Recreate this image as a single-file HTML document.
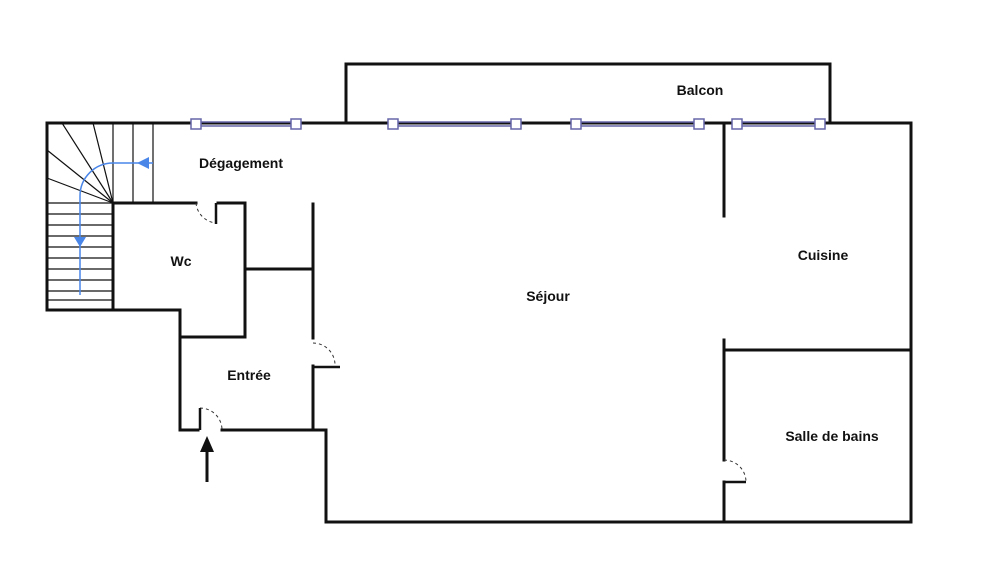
<!DOCTYPE html>
<html><head><style>body{margin:0;background:#fff}svg{display:block}text{font-family:"Liberation Sans",sans-serif;font-weight:bold;font-size:14px;fill:#111}</style></head>
<body>
<svg width="1000" height="566" viewBox="0 0 1000 566">
<g stroke="#111" stroke-width="3" fill="none" stroke-linecap="square">
<polyline points="346,123 346,64 830,64 830,123"/>
<line x1="47" y1="123" x2="911" y2="123"/>
<polyline points="911,123 911,522 326,522 326,430 222,430"/>
<polyline points="198,430 180,430 180,310 47,310 47,123"/>
<polyline points="113,310 113,203 196,203"/>
<polyline points="218,203 245,203 245,337 180,337"/>
<line x1="245" y1="269" x2="313" y2="269"/>
<line x1="313" y1="204" x2="313" y2="338"/>
<line x1="313" y1="366" x2="313" y2="430"/>
<line x1="724" y1="123" x2="724" y2="216"/>
<line x1="724" y1="340" x2="724" y2="460"/>
<line x1="724" y1="482" x2="724" y2="522"/>
<line x1="724" y1="350" x2="911" y2="350"/>
</g>
<g stroke="#111" stroke-width="1.2">
<line x1="47" y1="214" x2="113" y2="214"/><line x1="47" y1="225" x2="113" y2="225"/><line x1="47" y1="236" x2="113" y2="236"/><line x1="47" y1="247" x2="113" y2="247"/><line x1="47" y1="258" x2="113" y2="258"/><line x1="47" y1="269" x2="113" y2="269"/><line x1="47" y1="280" x2="113" y2="280"/><line x1="47" y1="291" x2="113" y2="291"/><line x1="47" y1="300" x2="113" y2="300"/>
<line x1="47" y1="203" x2="113" y2="203"/>
<line x1="133" y1="123" x2="133" y2="203"/><line x1="153" y1="123" x2="153" y2="203"/>
<line x1="113" y1="203" x2="113" y2="123"/>
<line x1="113" y1="203" x2="93" y2="123"/><line x1="113" y1="203" x2="62" y2="123"/>
<line x1="113" y1="203" x2="47" y2="150"/><line x1="113" y1="203" x2="47" y2="178"/>
</g>
<g stroke="#4a86e8" stroke-width="1.5" fill="none">
<path d="M153,163 H113 A33,33 0 0 0 80,196 V295"/>
</g>
<polygon points="137,163 149,157 149,169" fill="#4a86e8"/>
<polygon points="80,247 74,237 86,237" fill="#4a86e8"/>
<g stroke="#6666aa" stroke-width="1.5" fill="#fff">
<line x1="196" y1="122" x2="296" y2="122"/><line x1="196" y1="126" x2="296" y2="126"/>
<line x1="393" y1="122" x2="516" y2="122"/><line x1="393" y1="126" x2="516" y2="126"/>
<line x1="576" y1="122" x2="699" y2="122"/><line x1="576" y1="126" x2="699" y2="126"/>
<line x1="737" y1="122" x2="820" y2="122"/><line x1="737" y1="126" x2="820" y2="126"/>
<rect x="191" y="119" width="10" height="10"/><rect x="291" y="119" width="10" height="10"/>
<rect x="388" y="119" width="10" height="10"/><rect x="511" y="119" width="10" height="10"/>
<rect x="571" y="119" width="10" height="10"/><rect x="694" y="119" width="10" height="10"/>
<rect x="732" y="119" width="10" height="10"/><rect x="815" y="119" width="10" height="10"/>
</g>
<g stroke="#333" stroke-width="1" fill="none" stroke-dasharray="3,3">
<path d="M196,203 A22,22 0 0 0 216,223"/>
<path d="M313,343 A22,22 0 0 1 335,365"/>
<path d="M200,408 A22,22 0 0 1 222,430"/>
<path d="M724,460 A22,22 0 0 1 746,482"/>
</g>
<g stroke="#111" stroke-width="2.5">
<line x1="216" y1="203" x2="216" y2="224"/>
<line x1="313" y1="367" x2="340" y2="367"/>
<line x1="200" y1="408" x2="200" y2="430"/>
<line x1="724" y1="482" x2="746" y2="482"/>
</g>
<line x1="207" y1="482" x2="207" y2="450" stroke="#111" stroke-width="3"/>
<polygon points="207,436 200,452 214,452" fill="#111"/>
<text x="700" y="95" text-anchor="middle">Balcon</text>
<text x="241" y="168" text-anchor="middle">Dégagement</text>
<text x="181" y="266" text-anchor="middle">Wc</text>
<text x="249" y="380" text-anchor="middle">Entrée</text>
<text x="548" y="301" text-anchor="middle">Séjour</text>
<text x="823" y="260" text-anchor="middle">Cuisine</text>
<text x="832" y="441" text-anchor="middle">Salle de bains</text>
</svg>
</body></html>
